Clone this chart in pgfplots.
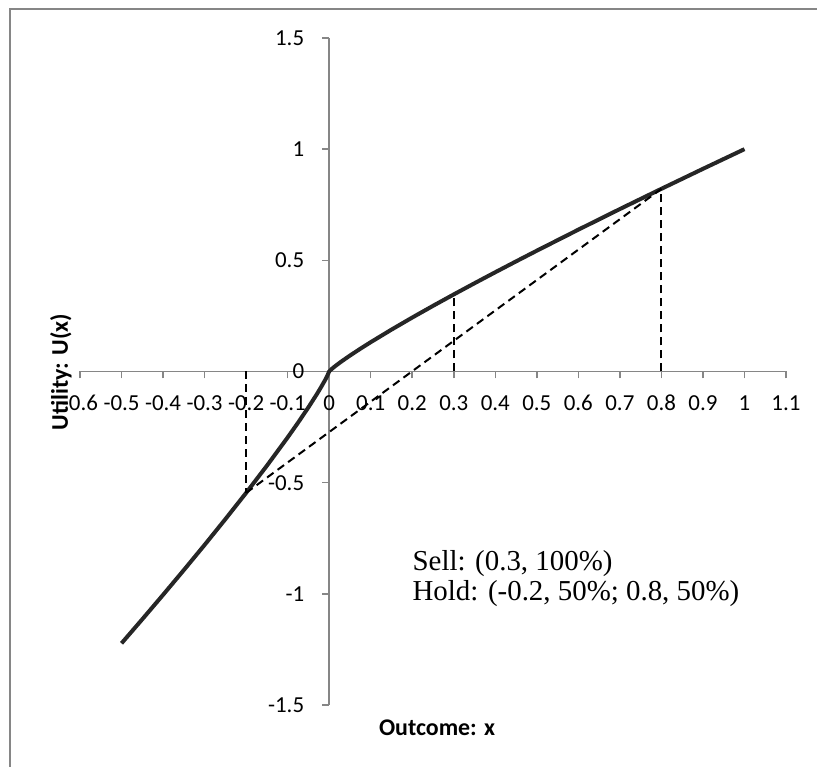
\documentclass[border=0pt]{standalone}
\usepackage{fontspec}
\setmainfont{Liberation Serif}
\newfontfamily\calibri{Carlito}
\usepackage{pgfplots}
\pgfplotsset{compat=1.18}
\definecolor{framegray}{RGB}{134,134,134}
\definecolor{curve}{RGB}{38,38,38}
\begin{document}
\begin{tikzpicture}
\useasboundingbox (0,0) rectangle (408.5bp,383.5bp);
\draw[color=framegray, line width=0.75bp] (5bp,0) -- (5bp,379bp) -- (408.5bp,379bp);
\begin{axis}[
  at={(40bp,31bp)}, anchor=south west,
  width=353bp, height=333.5bp, scale only axis,
  xmin=-0.6, xmax=1.1, ymin=-1.5, ymax=1.5,
  axis lines=middle,
  axis line style={-, draw=framegray, line width=0.75bp},
  tick style={draw=framegray, line width=0.75bp},
  major tick length=3.5bp,
  tick align=outside,
  hide obscured x ticks=false, hide obscured y ticks=false,
  xtick={-0.6,-0.5,-0.4,-0.3,-0.2,-0.1,0,0.1,0.2,0.3,0.4,0.5,0.6,0.7,0.8,0.9,1,1.1},
  xticklabels={-0.6,-0.5,-0.4,-0.3,-0.2,-0.1,0,0.1,0.2,0.3,0.4,0.5,0.6,0.7,0.8,0.9,1,1.1},
  ytick={-1.5,-1,-0.5,0,0.5,1,1.5},
  yticklabels={-1.5,-1,-0.5,0,0.5,1,1.5},
  ticklabel style={font=\calibri\fontsize{11.5}{13}\selectfont, text=black},
  xticklabel style={yshift=-4.5bp, text height=8bp, text depth=0pt},
  yticklabel style={xshift=-5.5bp},
  xlabel={Outcome: x},
  ylabel={Utility: U(x)},
  xlabel style={at={(rel axis cs:0.5057,-0.0345)}, anchor=center, font=\calibri\bfseries\fontsize{12}{14}\selectfont},
  ylabel style={at={(rel axis cs:-0.027,0.4993)}, anchor=center, rotate=90, font=\calibri\bfseries\fontsize{12}{14}\selectfont},
  clip=false,
]
\addplot[line width=2bp, color=curve, line join=round] coordinates {
(-0.5,-1.22256) (-0.45,-1.1143) (-0.4,-1.00460) (-0.35,-0.8932) (-0.3,-0.77996)
(-0.25,-0.6643) (-0.2,-0.54590) (-0.15,-0.42379) (-0.1,-0.29662) (-0.075,-0.2303)
(-0.05,-0.16117) (-0.03,-0.1028) (-0.02,-0.07196) (-0.01,-0.03913) (-0.005,-0.02125)
(0,0)
(0.005,0.009443) (0.01,0.01739) (0.02,0.03198) (0.03,0.04569) (0.05,0.07163)
(0.075,0.10237) (0.1,0.13183) (0.15,0.18835) (0.2,0.24262) (0.25,0.29524)
(0.3,0.34665) (0.35,0.39697) (0.4,0.44649) (0.45,0.49525) (0.5,0.54336)
(0.6,0.63793) (0.7,0.73061) (0.8,0.82171) (0.9,0.91145) (1,1)
};
\addplot[black, line width=1bp, dash pattern=on 4bp off 2.5bp] coordinates {(-0.2,0) (-0.2,-0.5459)};
\addplot[black, line width=1bp, dash pattern=on 4bp off 2.5bp] coordinates {(0.3,0) (0.3,0.34665)};
\addplot[black, line width=1bp, dash pattern=on 4bp off 2.5bp] coordinates {(0.8,0) (0.8,0.82171)};
\addplot[black, line width=1bp, dash pattern=on 4bp off 2.5bp] coordinates {(-0.2,-0.5459) (0.8,0.82171)};
\node[anchor=west, inner sep=0, font=\fontsize{14.5}{16}\selectfont] at (axis cs:0.2,-0.865) {Sell: (0.3, 100\%)};
\node[anchor=west, inner sep=0, font=\fontsize{14.5}{16}\selectfont] at (axis cs:0.2,-1.0) {Hold: (-0.2, 50\%; 0.8, 50\%)};
\end{axis}
\end{tikzpicture}
\end{document}
